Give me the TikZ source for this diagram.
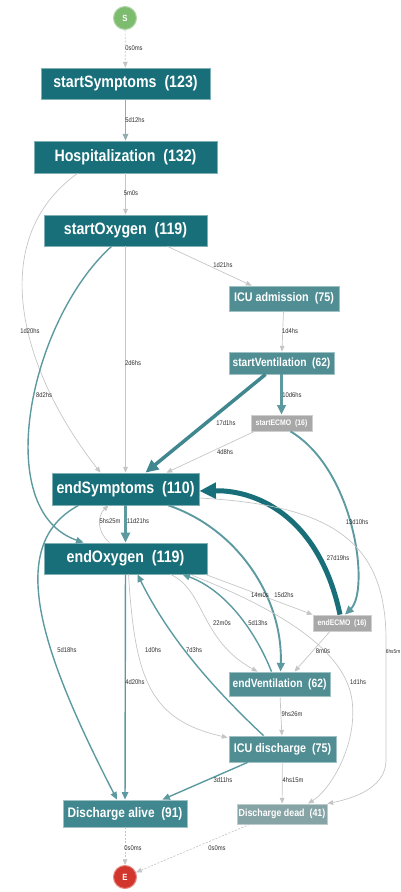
\documentclass[tikz,border=0pt]{standalone}
\usepackage{fontspec}
\setmainfont{Liberation Sans}[FakeStretch=0.86]
\usepackage{tikz}
\usetikzlibrary{arrows.meta,calc,positioning}
\definecolor{Canard}{RGB}{24,111,122}
\definecolor{Sarcelle}{RGB}{80,142,148}
\definecolor{Lagon}{RGB}{64,135,143}
\definecolor{Brume}{RGB}{134,163,165}
\definecolor{Cendre}{RGB}{168,168,168}
\definecolor{Pousse}{RGB}{125,187,111}
\definecolor{Cerise}{RGB}{210,53,43}
\definecolor{Trait}{RGB}{196,198,198}
\definecolor{FilSarcelle}{RGB}{92,154,160}
\definecolor{FilGris}{RGB}{150,172,174}

\begin{document}
\begin{tikzpicture}[x=1pt,y=-1pt,
  box/.style={line width=0.8pt, text=white, inner sep=0pt},
  big/.style={box, fill=Canard, draw=Canard!55!white, font=\bfseries\fontsize{16.5}{18}\selectfont},
  mid/.style={box, fill=Sarcelle, draw=Sarcelle!55!white, font=\bfseries\fontsize{12.5}{14}\selectfont},
  small/.style={box, fill=Cendre, draw=Cendre!55!white, font=\bfseries\fontsize{8}{9}\selectfont},
  ends/.style={circle, line width=1pt, minimum size=23pt, inner sep=0pt, text=white, font=\bfseries\fontsize{9}{9}\selectfont},
  lbl/.style={font=\fontsize{6.8}{7}\selectfont, text=black!82, inner sep=1pt},
  faint/.style={draw=Trait, line width=0.7pt, -{Triangle[length=4pt 2.5,width=3pt 2.5]}},
  flow/.style={draw=FilSarcelle, -{Triangle[length=4pt 2.5,width=3pt 2.5]}},
  dashy/.style={dash pattern=on 2pt off 1.5pt}]
\useasboundingbox (0,0) rectangle (401,892);
%
% activities
\node (S) at (125,18) [ends, fill=Pousse, draw=Pousse!60!white] {S};
\node (sSym) at (125.5,83.5) [big, minimum width=169pt, minimum height=31pt] {startSymptoms~~(123)};
\node (hosp) at (125.5,157) [big, minimum width=183pt, minimum height=32pt] {Hospitalization~~(132)};
\node (sOxy) at (125.5,230.5) [big, minimum width=163pt, minimum height=31pt] {startOxygen~~(119)};
\node (icuA) at (284,298.5) [mid, minimum width=110pt, minimum height=25pt] {ICU admission~~(75)};
\node (sVent) at (281.5,363) [mid, minimum width=105pt, minimum height=22pt, font=\bfseries\fontsize{11.9}{13}\selectfont] {startVentilation~~(62)};
\node (sECMO) at (281.5,423) [small, minimum width=61pt, minimum height=16pt] {startECMO~~(16)};
\node (eSym) at (125.5,489) [big, minimum width=147pt, minimum height=32pt] {endSymptoms~~(110)};
\node (eOxy) at (125.5,558.5) [big, minimum width=163pt, minimum height=31pt] {endOxygen~~(119)};
\node (eECMO) at (342,623) [small, minimum width=58pt, minimum height=16pt] {endECMO~~(16)};
\node (eVent) at (279.5,684) [mid, minimum width=101pt, minimum height=24pt, font=\bfseries\fontsize{11.9}{13}\selectfont] {endVentilation~~(62)};
\node (icuD) at (282.5,749) [mid, minimum width=107pt, minimum height=26pt] {ICU discharge~~(75)};
\node (dAlive) at (125,813.5) [mid, fill=Lagon, minimum width=124pt, minimum height=27pt, font=\bfseries\fontsize{13.8}{15}\selectfont] {Discharge alive~~(91)};
\node (dDead) at (282,814) [box, fill=Brume, draw=Brume!55!white, minimum width=90pt, minimum height=20pt, font=\bfseries\fontsize{10.3}{12}\selectfont] {Discharge dead~~(41)};
\node (E) at (125,877) [ends, fill=Cerise, draw=Cerise!60!white] {E};
%
% flows
\draw[faint, dashy] (S) -- (sSym);
\draw[flow, draw=FilGris, line width=1.1pt] (sSym) -- (hosp);
\draw[faint] (hosp) -- (sOxy);
\draw[faint] ($(hosp.south)+(-48,0)$) .. controls (-15,240) and (20,370) .. ($(eSym.north)+(-25,0)$);
\draw[faint] ($(sOxy.south)+(42,0)$) -- ($(icuA.north west)+(23,0)$);
\draw[faint] (sOxy) -- (eSym);
\draw[flow, line width=1.4pt] ($(sOxy.south)+(-14,0)$) .. controls (30,320) and (-10,510) .. ($(eOxy.north)+(-42,0)$);
\draw[faint] (icuA) -- (sVent);
\draw[flow, line width=2.2pt] (sVent) -- (sECMO);
\draw[flow, draw=Lagon, line width=3.5pt] ($(sVent.south)+(-16,0)$) -- ($(eSym.north)+(20,0)$);
\draw[faint] ($(sECMO.south west)+(4,0)$) -- ($(eSym.north)+(41,0)$);
\draw[flow, line width=1.9pt] ($(sECMO.south)+(9,0)$) .. controls (355,470) and (370,590) .. ($(eECMO.north)+(3,0)$);
\draw[flow, draw=Canard, line width=5pt] ($(eECMO.north)+(-2,0)$) .. controls (320,520) and (260,490) .. ($(eSym.east)+(0,2)$);
\draw[flow, line width=2.4pt] (eSym) -- (eOxy);
\draw[faint] ($(eOxy.north)+(-16,0)$) .. controls (97,532) and (97,516) .. ($(eSym.south)+(-17,0)$);
\draw[flow, line width=1.9pt] ($(eSym.south)+(43,0)$) .. controls (240,530) and (283,600) .. ($(eVent.north)+(1,0)$);
\draw[flow, line width=1.4pt] ($(eSym.south)+(-47,0)$) .. controls (5,545) and (40,650) .. ($(dAlive.north)+(-8,0)$);
\draw[flow, line width=1.4pt] (eOxy) -- (dAlive);
\draw[faint] ($(eOxy.south east)+(-2,0)$) -- (eECMO.north west);
\draw[flow, line width=1.4pt] ($(eVent.north)+(-8,0)$) .. controls (255,630) and (225,590) .. ($(eOxy.south)+(57,0)$);
\draw[faint] ($(eOxy.south)+(45,0)$) .. controls (205,590) and (200,640) .. ($(eVent.north)+(-22,0)$);
\draw[flow, line width=1.4pt] ($(icuD.north)+(-19,0)$) .. controls (215,690) and (170,640) .. ($(eOxy.south)+(12,0)$);
\draw[faint] ($(eOxy.south)+(3,0)$) .. controls (135,680) and (150,720) .. ($(icuD.north west)+(-1,2)$);
\draw[faint] ($(eOxy.south east)+(-15,1)$) .. controls (280,610) and (345,650) .. (352,700) .. controls (358,745) and (330,790) .. ($(dDead.north)+(26,0)$);
\draw[faint] ($(eSym.east)+(0,9)$) .. controls (330,505) and (386,540) .. (386,640) -- (386,760) .. controls (386,785) and (360,797) .. (dDead.north east);
\draw[faint] ($(eECMO.south)+(-12,0)$) -- ($(eVent.north)+(15,0)$);
\draw[faint] (eVent) -- (icuD);
\draw[faint] (icuD) -- (dDead);
\draw[flow, line width=1.4pt] ($(icuD.south west)+(19,0)$) -- ($(dAlive.north east)+(-25,0)$);
\draw[faint, dashy] (dAlive) -- (E);
\draw[faint, dashy] ($(dDead.south west)+(13,0)$) -- (E);
%
% durations
\node (tS) at (134,48) [lbl] {0s0ms};
\node (tHosp) at (135,120) [lbl] {5d12hs};
\node (tOxy) at (131,193) [lbl] {5m0s};
\node (tHosSym) at (30,331) [lbl] {1d20hs};
\node (tOxyOxy) at (44,395) [lbl] {8d2hs};
\node (tOxySym) at (133,363) [lbl] {2d6hs};
\node (tIcuA) at (223,265) [lbl] {1d21hs};
\node (tVent) at (290,331) [lbl] {1d4hs};
\node (tECMO) at (292,395) [lbl] {10d6hs};
\node (tVentSym) at (226,423) [lbl] {17d1hs};
\node (tECMOSym) at (225,452) [lbl] {4d8hs};
\node (tBack) at (110,521) [lbl] {5hs25m};
\node (tSymOxy) at (138,521) [lbl] {11d21hs};
\node (tECMOeECMO) at (357,522) [lbl] {13d10hs};
\node (tECMOeSym) at (338,558) [lbl] {27d19hs};
\node (tOxyECMO) at (260,595) [lbl] {14m0s};
\node (tSymVent) at (284,595) [lbl] {15d2hs};
\node (tOxyVent) at (222,623) [lbl] {22m0s};
\node (tVentOxy) at (258,623) [lbl] {5d13hs};
\node (tSymAlive) at (67,650) [lbl] {5d18hs};
\node (tOxyIcu) at (153,650) [lbl] {1d0hs};
\node (tIcuOxy) at (194,650) [lbl] {7d3hs};
\node (tECMOVent) at (323,651) [lbl] {8m0s};
\node (tSymDead) at (401,651) [lbl, anchor=east, inner sep=0.5pt, font=\fontsize{5.6}{6}\selectfont] {6hs5m};
\node (tOxyAlive) at (135,682) [lbl] {4d20hs};
\node (tOxyDead) at (358,682) [lbl] {1d1hs};
\node (tVentIcu) at (292,714) [lbl] {9hs26m};
\node (tIcuAlive) at (223,780) [lbl] {3d11hs};
\node (tIcuDead) at (293,780) [lbl] {4hs15m};
\node (tAlive) at (133,848) [lbl] {0s0ms};
\node (tDead) at (217,848) [lbl] {0s0ms};
%
\end{tikzpicture}
\end{document}
